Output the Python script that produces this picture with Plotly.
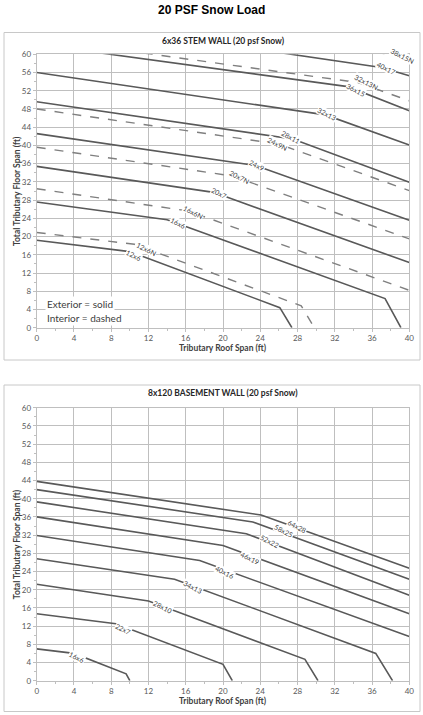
import plotly.graph_objects as go

# ---------------- data ----------------
X_TICKS = list(range(0, 41, 4))
Y_TICKS = list(range(0, 61, 4))

# Top chart: 6x36 STEM WALL (solid = exterior, dashed = interior)
STEM_NAMES = ["12x6", "12x6N", "16x6", "16x6N", "20x7", "20x7N", "24x9", "24x9N",
              "28x11", "32x13", "32x13N", "36x15", "40x17", "38x15N"]
STEM_X = [
    [0, 10, 26.1, 27.4],
    [0, 10.5, 28.4, 29.8],
    [0, 14, 37.4, 39.1],
    [0, 16.3, 40],
    [0, 19, 40],
    [0, 21, 40],
    [0, 23.5, 40],
    [0, 26, 40],
    [0, 27.5, 40],
    [0, 31, 40],
    [0, 34.5, 40],
    [0, 33.4, 40],
    [0, 37, 40],
    [0, 40],
]
STEM_Y = [
    [19.2, 16.7, 4.4, 0],
    [20.9, 18.3, 4.8, 0],
    [27.6, 23.7, 6.4, 0],
    [30.5, 25.6, 8.2],
    [35.4, 29.7, 14.3],
    [39.6, 33.3, 19.5],
    [42.6, 35.6, 23.6],
    [48.0, 40.3, 30.1],
    [49.6, 41.4, 31.9],
    [56.0, 46.7, 40.1],
    [63.5, 53.8, 49.8],
    [62.2, 52.9, 47.6],
    [68.2, 57.1, 55.3],
    [70.6, 59.4],
]
STEM_DASHED = [False, True, False, True, False, True, False, True,
               False, False, True, False, False, True]
STEM_LABEL_X = [10.4, 11.8, 15.2, 16.8, 19.6, 21.8, 23.6, 25.9, 27.3, 31.2, 35.4, 34.3, 37.5, 39.3]
STEM_LABEL_Y = [16.0, 17.3, 22.9, 25.5, 29.5, 33.1, 35.7, 40.3, 41.9, 46.9, 54.0, 52.2, 56.9, 59.7]

# Bottom chart: 8x120 BASEMENT WALL
BASE_NAMES = ["16x6", "22x7", "28x10", "34x13", "40x16", "46x19", "52x22", "58x25", "64x28"]
BASE_X = [
    [0, 4, 9.6, 10.0],
    [0, 8.5, 20.0, 21.0],
    [0, 12.0, 28.8, 30.2],
    [0, 14.8, 36.4, 38.2],
    [0, 17.5, 40],
    [0, 20, 40],
    [0, 22.5, 40],
    [0, 23.2, 40],
    [0, 24.1, 40],
]
BASE_Y = [
    [7.0, 6.0, 1.5, 0],
    [14.7, 12.5, 3.6, 0],
    [21.2, 17.5, 4.7, 0],
    [26.8, 22.3, 6.0, 0],
    [31.9, 26.4, 9.7],
    [36.0, 29.7, 14.7],
    [39.3, 32.3, 18.8],
    [42.0, 34.9, 22.3],
    [43.8, 36.4, 24.7],
]
BASE_LABEL_X = [4.3, 9.3, 13.6, 16.8, 20.2, 22.9, 25.0, 26.6, 27.9]
BASE_LABEL_Y = [5.3, 11.3, 16.3, 20.6, 24.0, 26.9, 30.8, 33.0, 33.9]

# ---------------- figure ----------------
W, H = 423, 715
def px_x(p):
    return p / W
def px_y(p):
    return 1 - p / H

FONT = "Lato, 'Open Sans', sans-serif"
SOLID_C = "#595959"
DASH_C = "#7f7f7f"

fig = go.Figure()

for xs, ys, d in zip(STEM_X, STEM_Y, STEM_DASHED):
    fig.add_trace(go.Scatter(
        x=xs, y=ys, mode="lines", xaxis="x", yaxis="y",
        line=dict(color=DASH_C if d else SOLID_C, width=1.4 if d else 1.6,
                  dash="dash" if d else "solid"),
        showlegend=False, hoverinfo="skip"))

for xs, ys in zip(BASE_X, BASE_Y):
    fig.add_trace(go.Scatter(
        x=xs, y=ys, mode="lines", xaxis="x2", yaxis="y2",
        line=dict(color=SOLID_C, width=1.6),
        showlegend=False, hoverinfo="skip"))

annotations = []
for n, lx, ly in zip(STEM_NAMES, STEM_LABEL_X, STEM_LABEL_Y):
    annotations.append(dict(x=lx, y=ly, xref="x", yref="y", text=n, showarrow=False,
                            textangle=27, bgcolor="white", borderpad=0,
                            font=dict(family=FONT, size=7, color="#404040")))
for n, lx, ly in zip(BASE_NAMES, BASE_LABEL_X, BASE_LABEL_Y):
    annotations.append(dict(x=lx, y=ly, xref="x2", yref="y2", text=n, showarrow=False,
                            textangle=27, bgcolor="white", borderpad=0,
                            font=dict(family=FONT, size=7, color="#404040")))

def paper_text(xp, yp, text, size, color, family=FONT, angle=0):
    return dict(x=px_x(xp), y=px_y(yp), xref="paper", yref="paper",
                xanchor="center", yanchor="middle", text=text, showarrow=False,
                textangle=angle, font=dict(family=family, size=size, color=color))

# titles
annotations.append(paper_text(212, 10, "<b>20 PSF Snow Load</b>", 12, "black",
                              family="Liberation Sans, Arial"))
annotations.append(paper_text(223, 41, "<b>6x36 STEM WALL (20 psf Snow)</b>", 8.5, "#262626"))
annotations.append(paper_text(223, 393, "<b>8x120 BASEMENT WALL (20 psf Snow)</b>", 8.5, "#262626"))
# axis titles
for yc_axis in [348, 701]:
    annotations.append(paper_text(223, yc_axis, "<b>Tributary Roof Span (ft)</b>", 8.5, "#404040"))
for ymid in [(54.3 + 327.7) / 2, (407.7 + 680.7) / 2]:
    annotations.append(paper_text(17, ymid, "<b>Total Tributary Floor Span (ft)</b>", 8.5,
                                  "#404040", angle=-90))
# legend note
annotations.append(dict(x=0.9, y=5.3, xref="x", yref="y", xanchor="left", yanchor="middle",
                        text="Exterior = solid", showarrow=False, bgcolor="white",
                        font=dict(family=FONT, size=10, color="#404040")))
annotations.append(dict(x=0.9, y=2.2, xref="x", yref="y", xanchor="left", yanchor="middle",
                        text="Interior = dashed", showarrow=False, bgcolor="white",
                        font=dict(family=FONT, size=10, color="#404040")))

shapes = [
    dict(type="rect", xref="paper", yref="paper", x0=px_x(4), x1=px_x(420),
         y0=px_y(360), y1=px_y(32.5), line=dict(color="#c8c8c8", width=1)),
    dict(type="rect", xref="paper", yref="paper", x0=px_x(4), x1=px_x(420),
         y0=px_y(711.5), y1=px_y(385), line=dict(color="#c8c8c8", width=1)),
]

def xax(domain, anchor):
    return dict(domain=domain, anchor=anchor, range=[0, 40], tickvals=X_TICKS,
                automargin=False,
                showgrid=True, gridcolor="#bfbfbf", gridwidth=1, zeroline=False,
                showline=True, linecolor="#bfbfbf", mirror=True,
                ticks="outside", ticklen=3, tickcolor="#bfbfbf",
                minor=dict(ticks="outside", ticklen=2, dtick=2, tickcolor="#bfbfbf"),
                tickfont=dict(family=FONT, size=8, color="#595959"))

def yax(domain, anchor):
    return dict(domain=domain, anchor=anchor, range=[0, 60], tickvals=Y_TICKS,
                automargin=False,
                showgrid=True, gridcolor="#bfbfbf", gridwidth=1, zeroline=False,
                showline=True, linecolor="#bfbfbf", mirror=True,
                ticks="outside", ticklen=3, tickcolor="#bfbfbf",
                minor=dict(ticks="outside", ticklen=2, dtick=2, tickcolor="#bfbfbf"),
                tickfont=dict(family=FONT, size=8, color="#595959"))

xd = [px_x(36.7), px_x(409.3)]
fig.update_layout(
    width=W, height=H, margin=dict(l=0, r=0, t=0, b=0, autoexpand=False),
    paper_bgcolor="white", plot_bgcolor="white",
    xaxis=xax(xd, "y"), yaxis=yax([px_y(327.7), px_y(54.3)], "x"),
    xaxis2=xax(xd, "y2"), yaxis2=yax([px_y(680.7), px_y(407.7)], "x2"),
    annotations=annotations, shapes=shapes, showlegend=False,
)

fig.write_html(
    "out.html",
    config={"displayModeBar": False},
    post_script="document.body.style.margin='0';document.body.style.overflow='hidden';",
)
